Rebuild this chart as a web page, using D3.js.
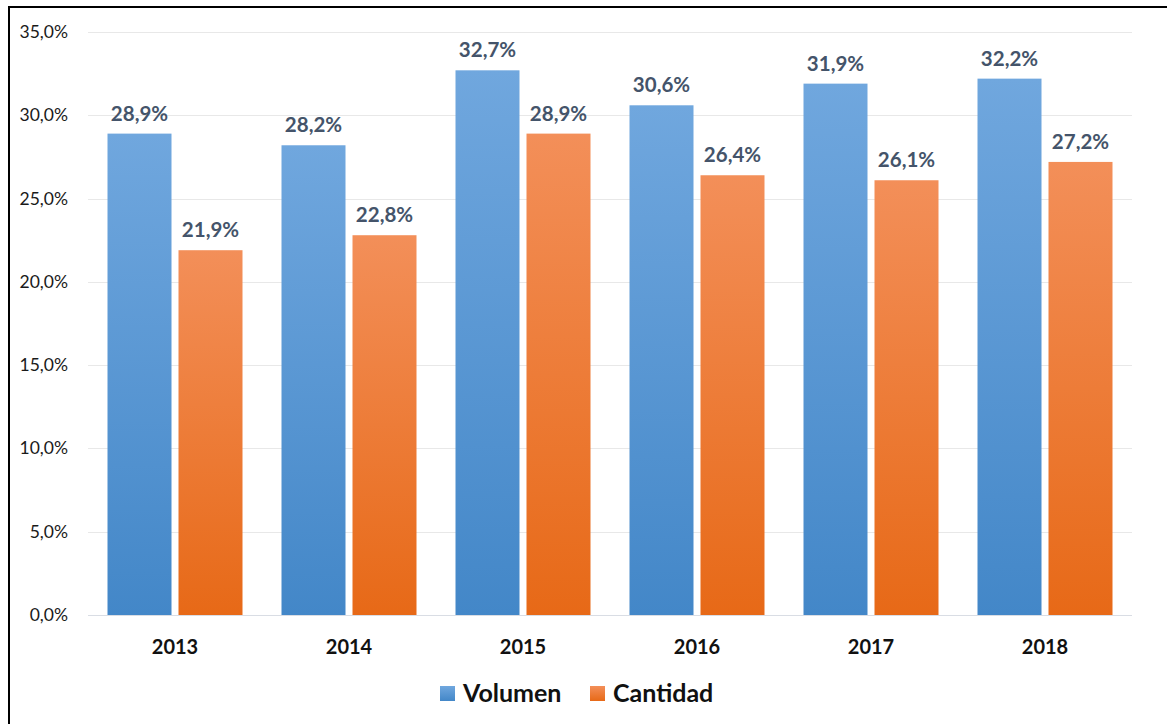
<!DOCTYPE html>
<html>
<head>
<meta charset="utf-8">
<script src="https://cdn.jsdelivr.net/npm/d3@7"></script>
<style>
  body { margin: 0; background: #fff; }
  svg { display: block; font-family: Lato, "Open Sans", sans-serif; }
</style>
</head>
<body>
<svg id="chart"></svg>
<script>
let years = ["2013", "2014", "2015", "2016", "2017", "2018"];
let seriesNames = ["Volumen", "Cantidad"];
let volumen = [28.9, 28.2, 32.7, 30.6, 31.9, 32.2];
let cantidad = [21.9, 22.8, 28.9, 26.4, 26.1, 27.2];
let yTicks = [0, 5, 10, 15, 20, 25, 30, 35];

let W = 1167, H = 724;
let svg = d3.select('#chart').attr('width', W).attr('height', H);

// frame
svg.append('rect')
    .attr('x', 9).attr('y', 7).attr('width', W + 20).attr('height', H + 20)
    .attr('fill', 'none').attr('stroke', '#000').attr('stroke-width', 2);

let fmt = v => v.toFixed(1).replace('.', ',') + '%';

let scX = d3.scaleBand().domain(years).range([88, 1132]).paddingInner(0).paddingOuter(0);
let scY = d3.scaleLinear().domain([0, 35]).range([615, 32]);
let scS = d3.scaleBand().domain(seriesNames).range([19.5, 174 - 19.5]).paddingInner(7 / 71);

let defs = svg.append('defs');
let grads = [
    { id: 'gBlue', top: '#70a7de', bottom: '#4387c8' },
    { id: 'gOrange', top: '#f38f59', bottom: '#e76917' }
];
grads.forEach(g => {
    let lg = defs.append('linearGradient').attr('id', g.id)
        .attr('x1', 0).attr('y1', 0).attr('x2', 0).attr('y2', 1);
    lg.append('stop').attr('offset', '0%').attr('stop-color', g.top);
    lg.append('stop').attr('offset', '100%').attr('stop-color', g.bottom);
});

// gridlines
svg.append('g').selectAll('line')
    .data(yTicks).enter().append('line')
    .attr('x1', 88).attr('x2', 1132)
    .attr('y1', d => Math.round(scY(d)) + 0.5).attr('y2', d => Math.round(scY(d)) + 0.5)
    .attr('stroke', d => d === 0 ? '#d9dde4' : '#e8e8e8').attr('stroke-width', 1);

// y axis labels
svg.append('g').selectAll('text')
    .data(yTicks).enter().append('text')
    .attr('x', 68).attr('y', d => scY(d) + 6)
    .attr('text-anchor', 'end')
    .attr('font-size', 17.5).attr('fill', '#1a1a1a')
    .text(d => fmt(d));

// bars
let table = years.map((y, i) => ({ year: y, values: [volumen[i], cantidad[i]] }));
let groups = svg.append('g').selectAll('g')
    .data(table).enter().append('g')
    .attr('transform', d => `translate(${scX(d.year)},0)`);

groups.selectAll('rect')
    .data(d => d.values.map((v, k) => ({ name: seriesNames[k], value: v, k: k })))
    .enter().append('rect')
    .attr('x', d => scS(d.name))
    .attr('y', d => scY(d.value))
    .attr('width', scS.bandwidth())
    .attr('height', d => scY(0) - scY(d.value))
    .attr('fill', d => `url(#${grads[d.k].id})`);

groups.selectAll('text')
    .data(d => d.values.map((v, k) => ({ name: seriesNames[k], value: v })))
    .enter().append('text')
    .attr('x', d => scS(d.name) + scS.bandwidth() / 2)
    .attr('y', d => scY(d.value) - 13)
    .attr('text-anchor', 'middle')
    .attr('font-size', 20.5).attr('font-weight', 'bold').attr('fill', '#44546a')
    .text(d => fmt(d.value));

// x axis labels
svg.append('g').selectAll('text')
    .data(years).enter().append('text')
    .attr('x', d => scX(d) + scX.bandwidth() / 2)
    .attr('y', 654)
    .attr('text-anchor', 'middle')
    .attr('font-size', 20).attr('font-weight', 'bold').attr('fill', '#111')
    .text(d => d);

// legend
let legend = [
    { name: 'Volumen', x: 440, grad: 'gBlue' },
    { name: 'Cantidad', x: 590, grad: 'gOrange' }
];
let lg = svg.append('g').selectAll('g')
    .data(legend).enter().append('g')
    .attr('transform', d => `translate(${d.x},686)`);
lg.append('rect').attr('width', 15).attr('height', 15)
    .attr('fill', d => `url(#${d.grad})`);
lg.append('text').attr('x', 23).attr('y', 16)
    .attr('font-size', 25).attr('font-weight', 'bold').attr('fill', '#111')
    .text(d => d.name);
</script>
</body>
</html>
